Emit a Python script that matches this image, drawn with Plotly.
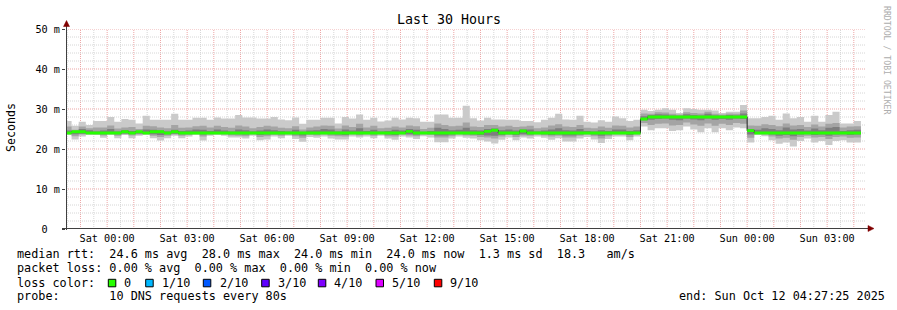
import pandas as pd
import plotly.graph_objects as go

# ---------------- data (ms), one value per 16-minute bin ----------------
BIN_START = "2025-10-10 22:24:00"
BIN_MINUTES = 16
RANGE_START = "2025-10-10 22:27:25"
RANGE_END = "2025-10-12 04:27:25"

median_rtt = [
    24.0, 24.3, 24.3, 24.0, 24.0, 24.0, 24.0, 24.0, 24.3, 24.0, 24.3, 24.0, 24.3, 24.3, 24.0, 24.3, 24.0, 24.0, 24.0, 24.0, 24.0,
    24.0, 24.0, 24.0, 24.0, 24.0, 24.0, 24.0, 24.0, 24.0, 24.0, 24.0, 24.0,
    24.0, 24.0, 24.0, 24.0, 24.0, 24.0, 24.0, 24.0, 24.0, 24.0,
    24.0, 24.0, 24.0, 24.0, 24.0, 24.4, 24.0, 24.0, 24.0, 24.0,
    24.0, 24.0, 24.0, 24.0, 24.0, 24.0, 24.4, 24.7, 24.0, 24.0,
    24.0, 24.5, 24.0, 24.0, 24.0, 24.0, 24.0, 24.0, 24.0, 24.0,
    24.0, 24.0,
    24.0, 24.0, 24.0, 24.0, 24.0, 24.0,
    27.5, 28.0, 28.0, 28.0, 28.0, 28.0, 28.0, 28.0, 28.0, 28.0, 28.0, 28.0, 28.0, 28.0, 28.0,
    24.6, 24.0, 24.0, 24.0, 24.0, 24.0, 24.0, 24.0, 24.0, 24.0, 24.0, 24.0, 24.0, 24.0, 24.0, 24.0,
]

max_rtt = [
    27.0, 25.8, 26.8, 26.0, 27.0, 27.0, 28.0, 26.8, 27.5, 27.3, 26.4, 28.3, 27.3, 27.3, 27.3, 28.8, 27.3, 27.3, 27.8, 27.8, 27.3,
    27.9, 27.6, 27.6, 28.5, 27.9, 27.9, 27.6, 27.6, 28.0, 27.4, 27.2, 27.9,
    26.3, 27.3, 27.3, 27.8, 27.8, 26.4, 28.0, 27.6, 28.6, 27.3,
    27.8, 26.9, 27.1, 27.8, 27.4, 27.8, 27.7, 26.8, 26.8, 28.6,
    28.6, 27.8, 27.8, 30.8, 27.7, 27.1, 27.8, 27.4, 27.4, 27.3,
    27.3, 27.0, 27.0, 26.7, 27.3, 27.8, 28.8, 27.4, 27.3, 28.3,
    26.8, 26.6,
    27.2, 26.8, 28.1, 27.7, 27.0, 27.3,
    29.8, 29.5, 29.8, 30.2, 29.8, 29.0, 30.2, 30.0, 29.8, 29.8, 29.6, 29.0, 29.3, 29.3, 31.0,
    27.7, 27.7, 28.0, 28.3, 27.3, 28.9, 27.7, 28.0, 26.8, 28.3, 26.8, 28.5, 29.3, 26.4, 26.4, 27.0,
]

min_rtt = [
    23.5, 22.4, 23.1, 23.5, 23.5, 22.8, 23.5, 22.7, 23.5, 22.7, 23.3, 23.5, 22.7, 22.1, 22.7, 23.3, 22.7, 23.1, 23.5, 22.1, 23.3,
    23.5, 23.3, 22.9, 22.9, 22.6, 23.3, 22.2, 22.4, 23.1, 22.7, 23.3, 22.5,
    21.8, 23.0, 22.8, 23.1, 22.6, 22.4, 22.4, 23.1, 22.9, 23.1,
    22.7, 23.3, 22.6, 22.3, 23.1, 22.9, 22.5, 23.2, 22.9, 21.7,
    21.7, 22.6, 23.1, 22.8, 22.6, 22.2, 21.9, 21.4, 22.3, 22.9,
    22.2, 22.9, 22.6, 23.1, 22.8, 22.3, 22.7, 21.9, 21.9, 22.6,
    23.0, 22.4,
    21.5, 22.5, 23.1, 23.1, 22.2, 23.1,
    25.6, 24.7, 25.2, 25.2, 24.5, 24.7, 25.6, 24.9, 24.2, 25.2, 24.2, 25.2, 24.7, 25.4, 25.2,
    21.6, 23.5, 23.2, 22.2, 21.3, 21.6, 20.6, 22.0, 22.6, 21.6, 22.0, 21.0, 22.0, 22.2, 21.6, 21.6,
]

ping9_rtt = [
    25.6, 24.8, 25.6, 25.2, 25.4, 25.4, 25.9, 25.1, 25.4, 25.5, 25.0, 25.8, 25.7, 25.4, 25.2, 26.0, 25.3, 25.4, 25.7, 25.8, 25.4,
    25.8, 25.5, 25.3, 25.9, 25.6, 25.2, 25.5, 25.8, 25.6, 25.3, 25.2, 25.7,
    24.9, 25.4, 25.6, 25.9, 25.8, 25.1, 25.9, 25.5, 26.3, 25.4,
    25.8, 25.2, 25.3, 25.6, 25.4, 25.9, 25.7, 25.0, 25.3, 26.4,
    26.0, 25.7, 25.8, 26.6, 25.6, 25.5, 26.0, 26.0, 25.6, 25.8,
    25.5, 25.6, 25.8, 25.2, 25.4, 25.9, 26.2, 25.6, 25.5, 26.0,
    25.3, 25.2,
    25.6, 25.3, 25.9, 25.8, 25.4, 25.6,
    28.9, 28.8, 29.2, 29.1, 28.8, 28.6, 29.2, 29.0, 28.9, 29.3, 28.8, 28.6, 28.9, 28.8, 29.6,
    25.9, 25.8, 26.2, 26.0, 25.7, 26.4, 25.9, 26.0, 25.5, 26.1, 25.6, 26.3, 26.5, 25.4, 25.6, 25.7,
]

ping2_rtt = [
    23.8, 23.2, 23.6, 23.8, 23.7, 23.4, 23.8, 23.3, 23.7, 23.4, 23.6, 23.8, 23.3, 23.0, 23.3, 23.6, 23.3, 23.5, 23.8, 23.1, 23.6,
    23.8, 23.6, 23.4, 23.3, 23.2, 23.6, 23.0, 23.2, 23.5, 23.3, 23.6, 23.2,
    22.8, 23.5, 23.4, 23.6, 23.3, 23.2, 23.1, 23.6, 23.4, 23.6,
    23.3, 23.7, 23.2, 23.1, 23.6, 23.4, 23.2, 23.6, 23.5, 22.9,
    22.9, 23.2, 23.6, 23.4, 23.3, 23.0, 22.9, 22.6, 23.1, 23.5,
    23.0, 23.4, 23.3, 23.6, 23.4, 23.1, 23.3, 22.9, 22.9, 23.3,
    23.6, 23.2,
    22.6, 23.2, 23.6, 23.6, 23.0, 23.6,
    26.5, 26.0, 26.3, 26.4, 25.9, 26.0, 26.6, 26.1, 25.8, 26.4, 25.8, 26.3, 26.0, 26.5, 26.3,
    22.8, 23.8, 23.6, 23.1, 22.6, 22.8, 22.3, 23.0, 23.3, 22.9, 23.0, 22.5, 23.0, 23.1, 22.8, 22.9,
]

ping8_rtt = [
    24.6, 24.3, 25.0, 24.7, 24.4, 24.6, 25.0, 24.4, 24.7, 24.5, 24.3, 24.9, 24.8, 24.6, 24.4, 24.8, 24.5, 24.6, 24.9, 24.8, 24.5,
    24.9, 24.6, 24.4, 24.9, 24.7, 24.4, 24.6, 24.9, 24.7, 24.5, 24.4, 24.8,
    24.3, 24.6, 24.7, 25.0, 24.9, 24.4, 24.9, 24.6, 25.2, 24.5,
    24.8, 24.4, 24.5, 24.8, 24.6, 25.0, 24.8, 24.3, 24.5, 25.3,
    25.0, 24.7, 24.8, 25.3, 24.7, 24.6, 25.0, 25.1, 24.7, 24.9,
    24.6, 24.9, 24.9, 24.4, 24.6, 24.9, 25.2, 24.7, 24.6, 25.0,
    24.5, 24.4,
    24.7, 24.5, 24.9, 24.9, 24.5, 24.7,
    28.2, 28.5, 28.7, 28.6, 28.4, 28.3, 28.7, 28.5, 28.4, 28.8, 28.4, 28.3, 28.5, 28.4, 28.9,
    25.0, 24.8, 25.2, 25.0, 24.7, 25.4, 24.9, 25.0, 24.6, 25.1, 24.7, 25.3, 25.5, 24.5, 24.7, 24.8,
]

ping3_rtt = [
    23.9, 23.7, 23.8, 24.0, 23.9, 23.7, 24.0, 23.7, 23.9, 23.8, 23.9, 23.9, 23.7, 23.5, 23.7, 23.8, 23.7, 23.8, 23.9, 23.6, 23.8,
    24.0, 23.8, 23.7, 23.7, 23.6, 23.8, 23.5, 23.6, 23.8, 23.7, 23.8, 23.6,
    23.4, 23.8, 23.7, 23.8, 23.7, 23.6, 23.5, 23.8, 23.7, 23.8,
    23.7, 23.9, 23.6, 23.5, 23.8, 23.7, 23.6, 23.8, 23.8, 23.4,
    23.4, 23.6, 23.8, 23.7, 23.6, 23.5, 23.4, 23.3, 23.5, 23.8,
    23.5, 23.7, 23.6, 23.8, 23.7, 23.5, 23.6, 23.4, 23.4, 23.6,
    23.8, 23.6,
    23.3, 23.6, 23.8, 23.8, 23.5, 23.8,
    27.2, 27.3, 27.5, 27.6, 27.3, 27.2, 27.6, 27.4, 27.2, 27.6, 27.3, 27.5, 27.3, 27.6, 27.5,
    23.6, 24.0, 23.9, 23.6, 23.3, 23.5, 23.2, 23.6, 23.8, 23.5, 23.6, 23.3, 23.6, 23.7, 23.5, 23.6,
]

y_tick_values = [0, 10, 20, 30, 40, 50]
y_tick_labels = ["0\u00a0\u00a0", "10 m", "20 m", "30 m", "40 m", "50 m"]
y_major_grid = [10, 20, 30, 40, 50]
y_minor_grid = [2, 4, 6, 8, 12, 14, 16, 18, 22, 24, 26, 28, 32, 34, 36, 38, 42, 44, 46, 48]

legend_rows = [
    "median rtt:  24.6 ms avg  28.0 ms max  24.0 ms min  24.0 ms now  1.3 ms sd  18.3   am/s",
    "packet loss: 0.00 % avg  0.00 % max  0.00 % min  0.00 % now",
    "loss color:",
    "probe:       10 DNS requests every 80s",
]
loss_labels = ["0", "1/10", "2/10", "3/10", "4/10", "5/10", "9/10"]
loss_colors = ["#26ff00", "#00b8ff", "#0059ff", "#5e00ff", "#7e00ff", "#dd00ff", "#ff0000"]
end_text = "end: Sun Oct 12 04:27:25 2025"

# ---------------- layout geometry ----------------
W, H = 897, 310
L, R, T, B = 66, 31, 29, 81
PW, PH = W - L - R, H - T - B
FONT = "DejaVu Sans Mono"


def px(x):
    return (x - L) / PW


def py(y):
    return (H - B - y) / PH


def nb(s):
    return s.replace(" ", "\u00a0")


n = len(median_rtt)
xs = list(pd.date_range(BIN_START, periods=n + 1, freq=f"{BIN_MINUTES}min"))


def ext(a):
    return list(a) + [a[-1]]


fig = go.Figure()


def band(lo, hi, color):
    fig.add_trace(go.Scatter(x=xs, y=ext(lo), mode="lines", line=dict(width=0, shape="hv"),
                             hoverinfo="skip", showlegend=False))
    fig.add_trace(go.Scatter(x=xs, y=ext(hi), mode="lines", line=dict(width=0, shape="hv"),
                             fill="tonexty", fillcolor=color, hoverinfo="skip", showlegend=False))


band(min_rtt, max_rtt, "#cacaca")
band(ping2_rtt, ping9_rtt, "#a4a4a4")
band(ping3_rtt, ping8_rtt, "#7e7e7e")

# thin dark median line
fig.add_trace(go.Scatter(x=xs, y=ext(median_rtt), mode="lines",
                         line=dict(width=1, shape="hv", color="#202020"),
                         hoverinfo="skip", showlegend=False))
# loss-coloured median band (stacked area of fixed thickness)
SW = 0.36
fig.add_trace(go.Scatter(x=xs, y=ext([m - SW for m in median_rtt]), mode="lines",
                         line=dict(width=0, shape="hv"), hoverinfo="skip", showlegend=False))
fig.add_trace(go.Scatter(x=xs, y=ext([m + SW for m in median_rtt]), mode="lines",
                         line=dict(width=0, shape="hv"), fill="tonexty", fillcolor=loss_colors[0],
                         hoverinfo="skip", showlegend=False))

hours = pd.date_range("2025-10-10 23:00", "2025-10-12 04:00", freq="1h")
half_hours = pd.date_range("2025-10-10 22:30", "2025-10-12 04:30", freq="1h")
x_tick_text = [h.strftime("%a %H:%M") if h.hour % 3 == 0 else "" for h in hours]

MGRID = "#eda5a5"
GRID = "#d6d6d6"
DOT = "1px,1px"

fig.update_layout(
    width=W, height=H, template="none",
    margin=dict(l=L, r=R, t=T, b=B, pad=0),
    paper_bgcolor="white", plot_bgcolor="white",
    showlegend=False,
    font=dict(family=FONT, color="black", size=10.2),
    xaxis=dict(type="date", range=[RANGE_START, RANGE_END], automargin=False,
               tickvals=list(hours), ticktext=x_tick_text,
               showgrid=False,
               ticks="outside", ticklen=0, tickcolor="rgba(0,0,0,0)",
               tickfont=dict(family=FONT, size=10.2, color="black"),
               showline=False, zeroline=False),
    yaxis=dict(range=[0, 50], automargin=False,
               tickvals=y_tick_values, ticktext=y_tick_labels,
               showgrid=False,
               ticks="outside", ticklen=3, tickcolor="#404040",
               tickfont=dict(family=FONT, size=10.2, color="black"),
               showline=False, zeroline=False),
)

shapes = []
# grid drawn as dotted lines beneath the data
for t in half_hours:
    shapes.append(dict(type="line", layer="below", xref="x", yref="paper", x0=t, x1=t, y0=0, y1=1,
                       line=dict(color=GRID, width=1, dash=DOT)))
for t in hours:
    shapes.append(dict(type="line", layer="below", xref="x", yref="paper", x0=t, x1=t, y0=0, y1=1,
                       line=dict(color=MGRID, width=1, dash=DOT)))
for v in y_minor_grid:
    shapes.append(dict(type="line", layer="below", xref="paper", yref="y", x0=0, x1=1, y0=v, y1=v,
                       line=dict(color=GRID, width=1, dash=DOT)))
for v in y_major_grid:
    shapes.append(dict(type="line", layer="below", xref="paper", yref="y", x0=0, x1=1, y0=v, y1=v,
                       line=dict(color=MGRID, width=1, dash=DOT)))

AX = "#404040"
ARROW = "#800000"
# axes
shapes.append(dict(type="line", xref="paper", yref="paper", x0=px(66.5), x1=px(66.5),
                   y0=py(230), y1=py(25), line=dict(color=AX, width=1)))
shapes.append(dict(type="line", xref="paper", yref="paper", x0=px(62), x1=px(869),
                   y0=py(228.5), y1=py(228.5), line=dict(color=AX, width=1)))
# arrows
shapes.append(dict(type="path", xref="paper", yref="paper",
                   path=f"M {px(63.5)} {py(26.5)} L {px(69.5)} {py(26.5)} L {px(66.5)} {py(20.5)} Z",
                   fillcolor=ARROW, line=dict(color=ARROW, width=0.5)))
shapes.append(dict(type="path", xref="paper", yref="paper",
                   path=f"M {px(868)} {py(225.5)} L {px(868)} {py(231.5)} L {px(874)} {py(228.5)} Z",
                   fillcolor=ARROW, line=dict(color=ARROW, width=0.5)))

annotations = []
# title
annotations.append(dict(text=nb("Last 30 Hours"), xref="paper", yref="paper", x=px(448.5), y=py(19.5),
                        xanchor="center", yanchor="middle", showarrow=False,
                        font=dict(family=FONT, size=13.3, color="black")))
# y axis title
annotations.append(dict(text="Seconds", xref="paper", yref="paper", x=px(11), y=py(127),
                        xanchor="center", yanchor="middle", showarrow=False, textangle=-90,
                        font=dict(family=FONT, size=11.6, color="black")))
# watermark
annotations.append(dict(text=nb("RRDTOOL / TOBI OETIKER"), xref="paper", yref="paper", x=px(887), y=py(60),
                        xanchor="center", yanchor="middle", showarrow=False, textangle=90,
                        font=dict(family=FONT, size=8.2, color="#adadad")))
# legend rows
row_y = [254.3, 268.3, 282.7, 296.3]
for txt, yy in zip(legend_rows, row_y):
    annotations.append(dict(text=nb(txt), xref="paper", yref="paper", x=px(15), y=py(yy),
                            xanchor="left", yanchor="middle", showarrow=False,
                            font=dict(family=FONT, size=11.8, color="black")))
annotations.append(dict(text=nb(end_text), xref="paper", yref="paper", x=px(676.5), y=py(296.3),
                        xanchor="left", yanchor="middle", showarrow=False,
                        font=dict(family=FONT, size=11.8, color="black")))
sq_x = [108.3, 145.7, 203.3, 261.7, 318.3, 376.0, 434.3]
lab_x = [122.3, 160.3, 217.7, 275.7, 332.3, 390.0, 448.3]
for sx, lx, lab, col in zip(sq_x, lab_x, loss_labels, loss_colors):
    shapes.append(dict(type="rect", xref="paper", yref="paper", x0=px(sx), x1=px(sx + 7.5),
                       y0=py(286.8), y1=py(279.3), fillcolor=col, line=dict(color="black", width=1)))
    annotations.append(dict(text=nb(lab), xref="paper", yref="paper", x=px(lx), y=py(282.7),
                            xanchor="left", yanchor="middle", showarrow=False,
                            font=dict(family=FONT, size=11.8, color="black")))

fig.update_layout(shapes=shapes, annotations=annotations)
fig.write_html("out.html")
